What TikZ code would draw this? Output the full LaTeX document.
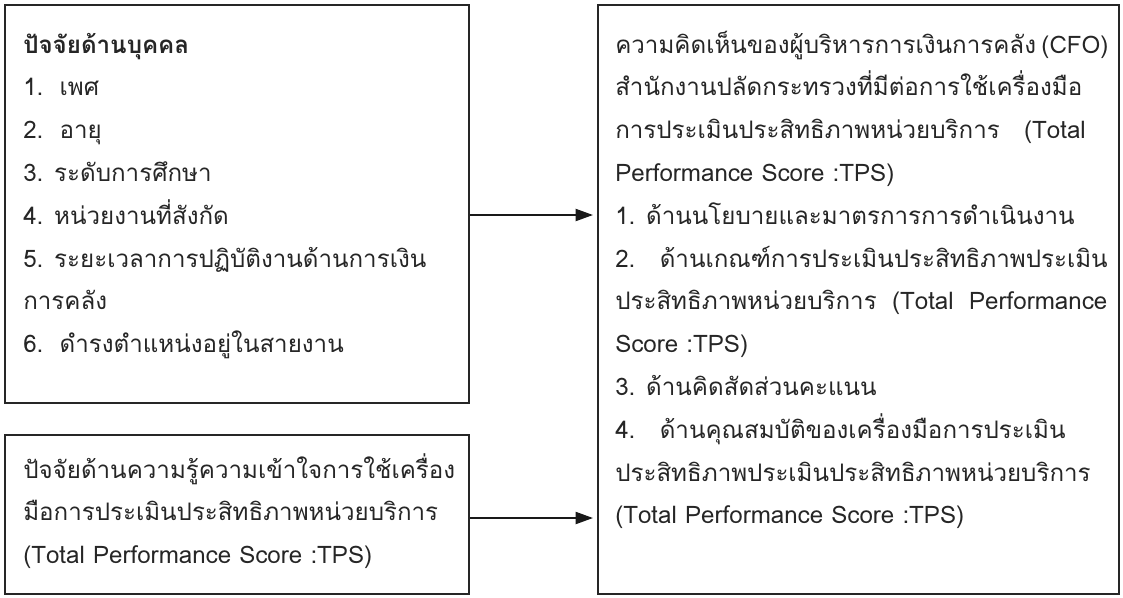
\documentclass[tikz,border=0pt]{standalone}
\usepackage{fontspec}
\newfontfamily\thaifont[Script=Thai]{Loma}
\usetikzlibrary{arrows.meta}
\newcommand\jline[1]{\hbox to 369pt{#1}}
\begin{document}
\begin{tikzpicture}[x=0.75pt,y=-0.75pt,
  box/.style={draw=black!85,line width=1.7pt,rectangle,inner sep=0pt,anchor=north west},
  txt/.style={anchor=base west,align=left,inner sep=0pt,text=black!85,font={\thaifont\fontsize{18.1}{32.1}\selectfont}},
  arr/.style={draw=black!90,line width=1.5pt,-{Triangle[length=13pt,width=9pt]}}]
\useasboundingbox (0,0) rectangle (1123,597);
\node[box,minimum width=348pt,minimum height=298.5pt] (b1) at (4,4) {};
\node[box,minimum width=348pt,minimum height=119.25pt] (b2) at (4,434) {};
\node[box,minimum width=390.75pt,minimum height=441.75pt] (b3) at (597,4) {};
\node[txt] (t1) at (23,352.6) {{\bfseries ปัจจัยด้านบุคคล}\\
1.\ \ เพศ\\
2.\ \ อายุ\\
3. ระดับการศึกษา\\
4. หน่วยงานที่สังกัด\\
5. ระยะเวลาการปฏิบัติงานด้านการเงิน\\
การคลัง\\
6.\ \ ดำรงตำแหน่งอยู่ในสายงาน};
\node[txt] (t2) at (23,563.6) {ปัจจัยด้านความรู้ความเข้าใจการใช้เครื่อง\\
มือการประเมินประสิทธิภาพหน่วยบริการ\\
(Total Performance Score :TPS)};
\node[txt] (t3) at (615,523.8) {\jline{ความคิดเห็นของผู้บริหารการเงินการคลัง (CFO)}\\
สำนักงานปลัดกระทรวงที่มีต่อการใช้เครื่องมือ\\
การประเมินประสิทธิภาพหน่วยบริการ\ \ \ (Total\\
Performance Score :TPS)\\
1. ด้านนโยบายและมาตรการการดำเนินงาน\\
2.\ \ \ ด้านเกณฑ์การประเมินประสิทธิภาพประเมิน\\
\jline{ประสิทธิภาพหน่วยบริการ (Total Performance}\\
Score :TPS)\\
3. ด้านคิดสัดส่วนคะแนน\\
4.\ \ \ ด้านคุณสมบัติของเครื่องมือการประเมิน\\
ประสิทธิภาพประเมินประสิทธิภาพหน่วยบริการ\\
(Total Performance Score :TPS)};
\draw[arr] (b1.east |- 0,215) -- ([xshift=-3pt]b3.west |- 0,215);
\draw[arr] (b2.east |- 0,518) -- ([xshift=-3pt]b3.west |- 0,518);
\end{tikzpicture}
\end{document}
